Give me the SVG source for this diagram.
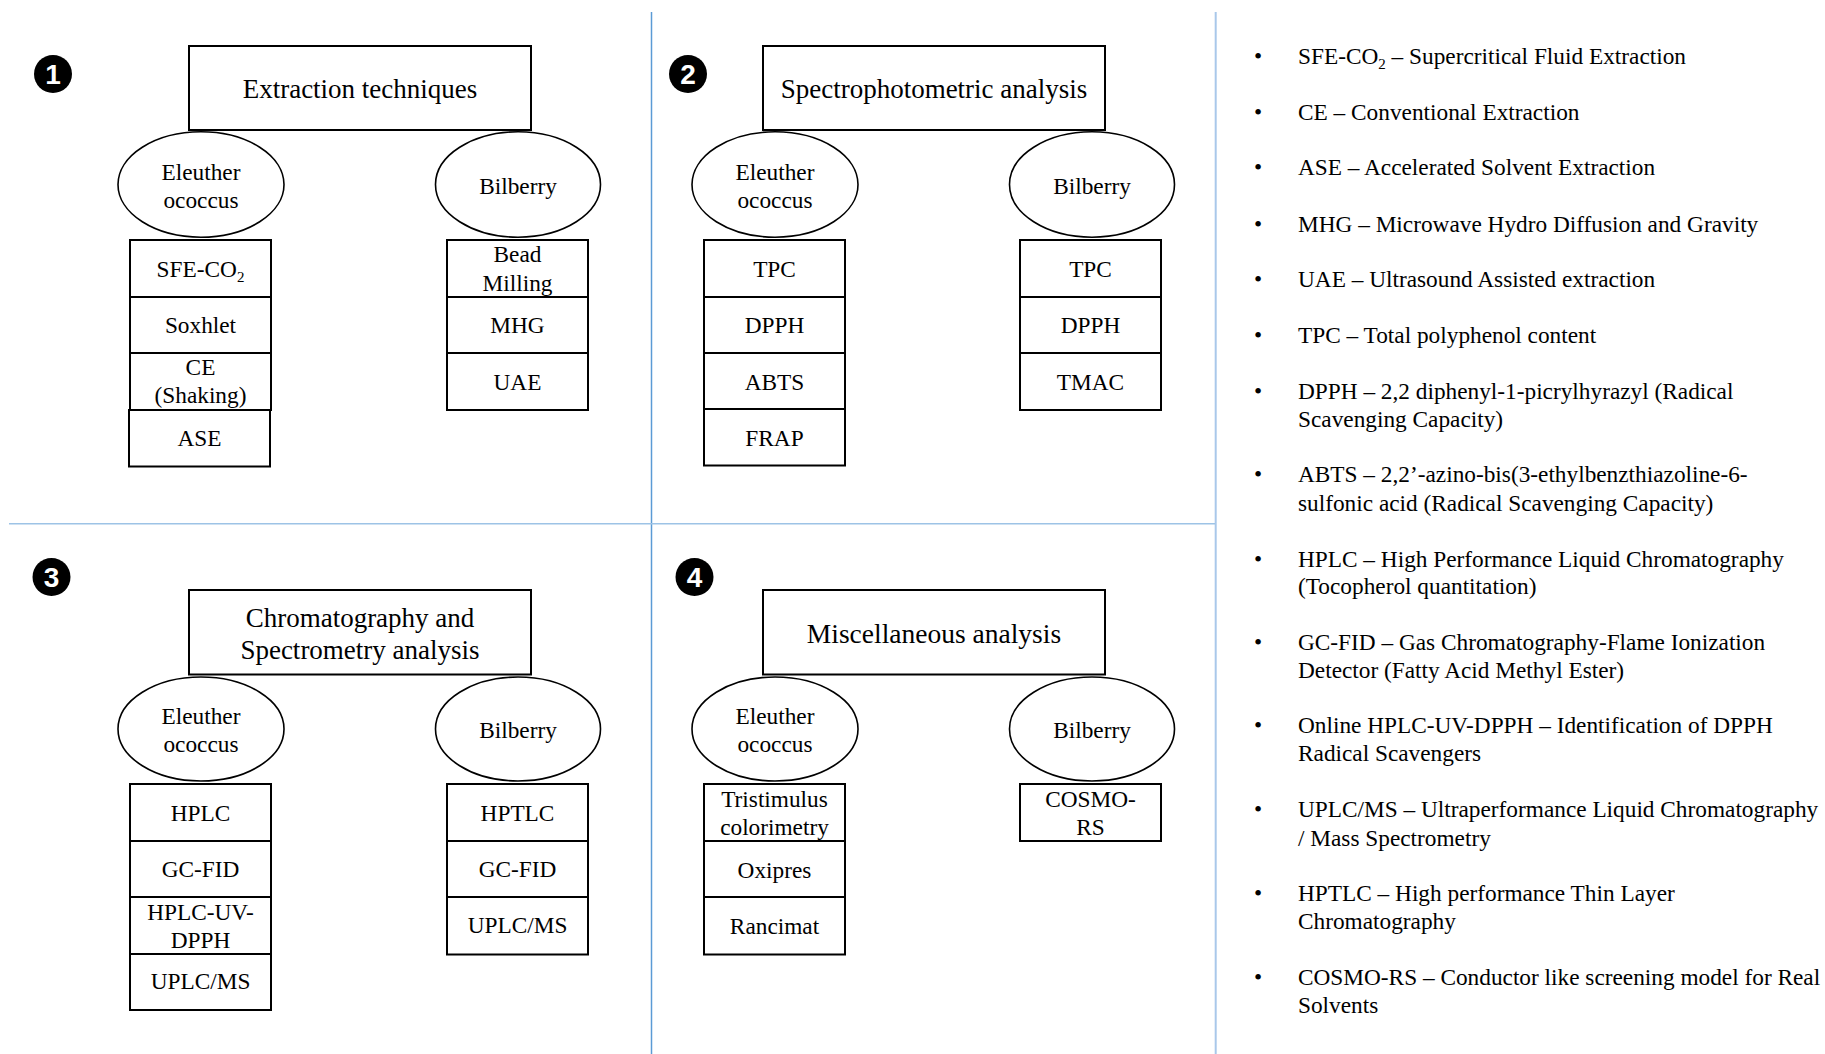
<svg xmlns="http://www.w3.org/2000/svg" width="1825" height="1054" viewBox="0 0 1825 1054">
<style>
text{font-family:"Liberation Serif","Times New Roman",serif;fill:#000}
.t{text-anchor:middle}
.lab{font-size:23.3px}
.ttl{font-size:27px}
.leg{font-size:23.3px}
.box{fill:#fff;stroke:#000;stroke-width:2}
.ell{fill:#fff;stroke:#000;stroke-width:1.6}
.bdg{fill:#000}
.bdgt{font-family:"Liberation Sans",Arial,sans-serif;font-weight:bold;font-size:28px;fill:#fff;text-anchor:middle}
</style>
<rect width="1825" height="1054" fill="#fff"/>
<g id="dividers">
<line x1="651.5" y1="12" x2="651.5" y2="1054" stroke="#5b9bd5" stroke-width="1.5"/>
<line x1="1215.7" y1="12" x2="1215.7" y2="1054" stroke="#a9c8ea" stroke-width="2"/>
<line x1="9" y1="523.7" x2="1215" y2="523.7" stroke="#9dc3e6" stroke-width="1.6"/>
</g>
<g id="connectors"></g>

<!-- Panel 1 -->
<g id="badge1"><circle class="bdg" cx="53" cy="74" r="19"/><text class="bdgt" x="53" y="84">1</text></g>
<g id="p1-title"><rect class="box" x="189" y="46" width="342" height="84"/><text class="t ttl" x="360" y="98">Extraction techniques</text></g>
<g id="p1-eleuther"><ellipse class="ell" cx="201" cy="184.5" rx="83" ry="52.7"/><text class="t lab" x="201" y="179.5">Eleuther</text><text class="t lab" x="201" y="208">ococcus</text></g>
<g id="p1-bilberry"><ellipse class="ell" cx="518" cy="184.5" rx="82.5" ry="52.7"/><text class="t lab" x="518" y="194">Bilberry</text></g>
<g id="p1-sfe"><rect class="box" x="130" y="240" width="141" height="57"/><text class="t lab" x="200.5" y="277">SFE-CO<tspan font-size="15" dy="5">2</tspan></text></g>
<g id="p1-soxhlet"><rect class="box" x="130" y="297" width="141" height="56"/><text class="t lab" x="200.5" y="333">Soxhlet</text></g>
<g id="p1-ce"><rect class="box" x="130" y="353" width="141" height="57"/><text class="t lab" x="200.5" y="375">CE</text><text class="t lab" x="200.5" y="403">(Shaking)</text></g>
<g id="p1-ase"><rect class="box" x="129" y="410" width="141" height="56.5"/><text class="t lab" x="199.5" y="446">ASE</text></g>
<g id="p1-bead"><rect class="box" x="447" y="240" width="141" height="57"/><text class="t lab" x="517.5" y="262">Bead</text><text class="t lab" x="517.5" y="291">Milling</text></g>
<g id="p1-mhg"><rect class="box" x="447" y="297" width="141" height="56"/><text class="t lab" x="517.5" y="333">MHG</text></g>
<g id="p1-uae"><rect class="box" x="447" y="353" width="141" height="57"/><text class="t lab" x="517.5" y="390">UAE</text></g>

<!-- Panel 2 -->
<g id="badge2"><circle class="bdg" cx="688" cy="74" r="19"/><text class="bdgt" x="688" y="84">2</text></g>
<g id="p2-title"><rect class="box" x="763" y="46" width="342" height="84"/><text class="t ttl" x="934" y="98" style="font-size:27px">Spectrophotometric analysis</text></g>
<g id="p2-eleuther"><ellipse class="ell" cx="775" cy="184.5" rx="83" ry="52.7"/><text class="t lab" x="775" y="179.5">Eleuther</text><text class="t lab" x="775" y="208">ococcus</text></g>
<g id="p2-bilberry"><ellipse class="ell" cx="1092" cy="184.5" rx="82.5" ry="52.7"/><text class="t lab" x="1092" y="194">Bilberry</text></g>
<g id="p2-tpc-e"><rect class="box" x="704" y="240" width="141" height="57"/><text class="t lab" x="774.5" y="277">TPC</text></g>
<g id="p2-dpph-e"><rect class="box" x="704" y="297" width="141" height="56"/><text class="t lab" x="774.5" y="333">DPPH</text></g>
<g id="p2-abts"><rect class="box" x="704" y="353" width="141" height="56"/><text class="t lab" x="774.5" y="390">ABTS</text></g>
<g id="p2-frap"><rect class="box" x="704" y="409" width="141" height="56.5"/><text class="t lab" x="774.5" y="446">FRAP</text></g>
<g id="p2-tpc-b"><rect class="box" x="1020" y="240" width="141" height="57"/><text class="t lab" x="1090.5" y="277">TPC</text></g>
<g id="p2-dpph-b"><rect class="box" x="1020" y="297" width="141" height="56"/><text class="t lab" x="1090.5" y="333">DPPH</text></g>
<g id="p2-tmac"><rect class="box" x="1020" y="353" width="141" height="57"/><text class="t lab" x="1090.5" y="390">TMAC</text></g>

<!-- Panel 3 -->
<g id="badge3"><circle class="bdg" cx="51.5" cy="577" r="19"/><text class="bdgt" x="51.5" y="587">3</text></g>
<g id="p3-title"><rect class="box" x="189" y="590" width="342" height="84.5"/><text class="t ttl" x="360" y="626.5">Chromatography and</text><text class="t ttl" x="360" y="658.5">Spectrometry analysis</text></g>
<g id="p3-eleuther"><ellipse class="ell" cx="201" cy="729" rx="83" ry="52"/><text class="t lab" x="201" y="723.5">Eleuther</text><text class="t lab" x="201" y="751.5">ococcus</text></g>
<g id="p3-bilberry"><ellipse class="ell" cx="518" cy="729" rx="82.5" ry="52"/><text class="t lab" x="518" y="737.5">Bilberry</text></g>
<g id="p3-hplc"><rect class="box" x="130" y="784" width="141" height="57"/><text class="t lab" x="200.5" y="821">HPLC</text></g>
<g id="p3-gcfid-e"><rect class="box" x="130" y="841" width="141" height="56"/><text class="t lab" x="200.5" y="877">GC-FID</text></g>
<g id="p3-hplcuv"><rect class="box" x="130" y="897" width="141" height="57"/><text class="t lab" x="200.5" y="920">HPLC-UV-</text><text class="t lab" x="200.5" y="948">DPPH</text></g>
<g id="p3-uplc-e"><rect class="box" x="130" y="954" width="141" height="56"/><text class="t lab" x="200.5" y="989">UPLC/MS</text></g>
<g id="p3-hptlc"><rect class="box" x="447" y="784" width="141" height="57"/><text class="t lab" x="517.5" y="821">HPTLC</text></g>
<g id="p3-gcfid-b"><rect class="box" x="447" y="841" width="141" height="56"/><text class="t lab" x="517.5" y="877">GC-FID</text></g>
<g id="p3-uplc-b"><rect class="box" x="447" y="897" width="141" height="57.5"/><text class="t lab" x="517.5" y="933">UPLC/MS</text></g>

<!-- Panel 4 -->
<g id="badge4"><circle class="bdg" cx="694.5" cy="577" r="19"/><text class="bdgt" x="694.5" y="587">4</text></g>
<g id="p4-title"><rect class="box" x="763" y="590" width="342" height="84.5"/><text class="t ttl" x="934" y="642.5" style="font-size:27.5px">Miscellaneous analysis</text></g>
<g id="p4-eleuther"><ellipse class="ell" cx="775" cy="729" rx="83" ry="52"/><text class="t lab" x="775" y="723.5">Eleuther</text><text class="t lab" x="775" y="751.5">ococcus</text></g>
<g id="p4-bilberry"><ellipse class="ell" cx="1092" cy="729" rx="82.5" ry="52"/><text class="t lab" x="1092" y="737.5">Bilberry</text></g>
<g id="p4-tristimulus"><rect class="box" x="704" y="784" width="141" height="57"/><text class="t lab" x="774.5" y="806.5">Tristimulus</text><text class="t lab" x="774.5" y="834.5">colorimetry</text></g>
<g id="p4-oxipres"><rect class="box" x="704" y="841" width="141" height="56"/><text class="t lab" x="774.5" y="877.5">Oxipres</text></g>
<g id="p4-rancimat"><rect class="box" x="704" y="897" width="141" height="57.5"/><text class="t lab" x="774.5" y="933.5">Rancimat</text></g>
<g id="p4-cosmo"><rect class="box" x="1020" y="784" width="141" height="57"/><text class="t lab" x="1090.5" y="806.5">COSMO-</text><text class="t lab" x="1090.5" y="834.5">RS</text></g>

<!-- Legend -->
<g id="legend" class="leg">
<text class="leg t" x="1258" y="63.6">•</text><text class="leg" x="1298" y="63.6">SFE-CO<tspan font-size="15" dy="5">2</tspan><tspan dy="-5"> – Supercritical Fluid Extraction</tspan></text>
<text class="leg t" x="1258" y="120">•</text><text class="leg" x="1298" y="120">CE – Conventional Extraction</text>
<text class="leg t" x="1258" y="175.1">•</text><text class="leg" x="1298" y="175.1">ASE – Accelerated Solvent Extraction</text>
<text class="leg t" x="1258" y="231.6">•</text><text class="leg" x="1298" y="231.6">MHG – Microwave Hydro Diffusion and Gravity</text>
<text class="leg t" x="1258" y="287.4">•</text><text class="leg" x="1298" y="287.4">UAE – Ultrasound Assisted extraction</text>
<text class="leg t" x="1258" y="343.1">•</text><text class="leg" x="1298" y="343.1">TPC – Total polyphenol content</text>
<text class="leg t" x="1258" y="398.9">•</text><text class="leg" x="1298" y="398.9">DPPH – 2,2 diphenyl-1-picrylhyrazyl (Radical</text><text class="leg" x="1298" y="426.6">Scavenging Capacity)</text>
<text class="leg t" x="1258" y="481.7">•</text><text class="leg" x="1298" y="481.7">ABTS – 2,2’-azino-bis(3-ethylbenzthiazoline-6-</text><text class="leg" x="1298" y="510.5">sulfonic acid (Radical Scavenging Capacity)</text>
<text class="leg t" x="1258" y="566.8">•</text><text class="leg" x="1298" y="566.8">HPLC – High Performance Liquid Chromatography</text><text class="leg" x="1298" y="593.5">(Tocopherol quantitation)</text>
<text class="leg t" x="1258" y="650.3">•</text><text class="leg" x="1298" y="650.3">GC-FID – Gas Chromatography-Flame Ionization</text><text class="leg" x="1298" y="678.1">Detector (Fatty Acid Methyl Ester)</text>
<text class="leg t" x="1258" y="733.2">•</text><text class="leg" x="1298" y="733.2">Online HPLC-UV-DPPH – Identification of DPPH</text><text class="leg" x="1298" y="760.6">Radical Scavengers</text>
<text class="leg t" x="1258" y="817.4">•</text><text class="leg" x="1298" y="817.4">UPLC/MS – Ultraperformance Liquid Chromatography</text><text class="leg" x="1298" y="845.8">/ Mass Spectrometry</text>
<text class="leg t" x="1258" y="901">•</text><text class="leg" x="1298" y="901">HPTLC – High performance Thin Layer</text><text class="leg" x="1298" y="929.4">Chromatography</text>
<text class="leg t" x="1258" y="985.2">•</text><text class="leg" x="1298" y="985.2">COSMO-RS – Conductor like screening model for Real</text><text class="leg" x="1298" y="1013">Solvents</text>
</g>
</svg>
